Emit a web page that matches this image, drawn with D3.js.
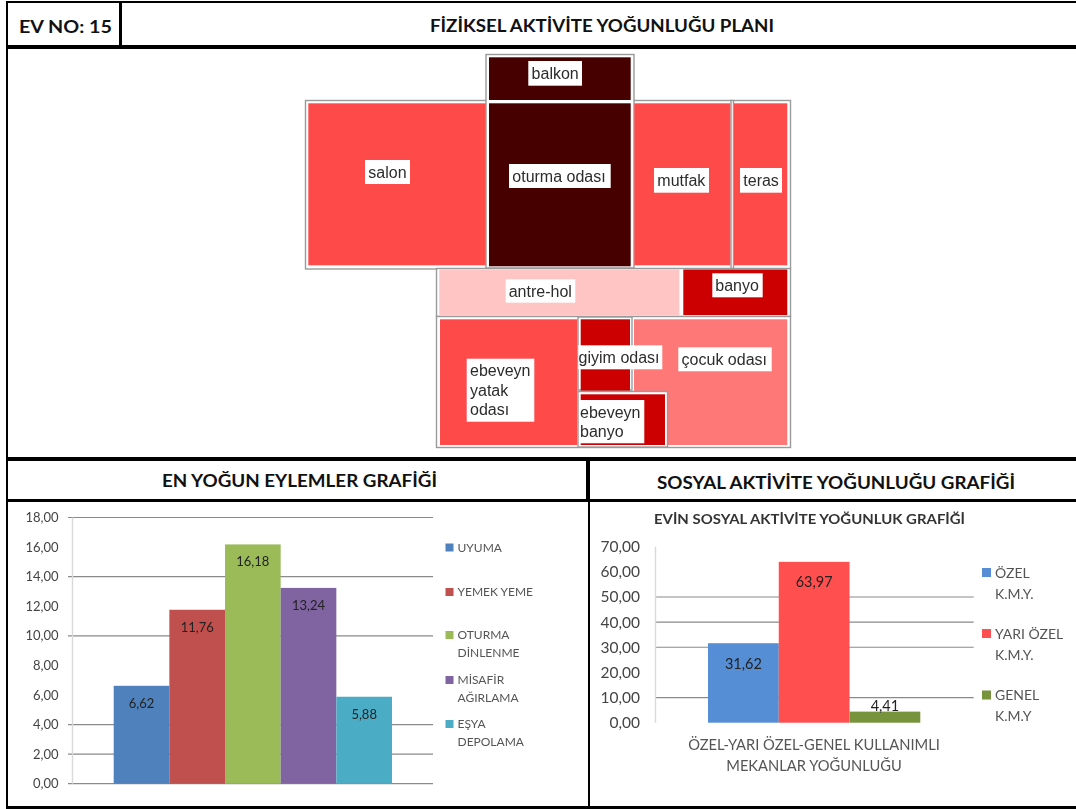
<!DOCTYPE html>
<html><head><meta charset="utf-8">
<script src="https://cdn.jsdelivr.net/npm/d3@7"></script>
<style>
html,body{margin:0;padding:0;background:#fff}
svg{display:block}
.soft{filter:blur(0.5px)}
.softer{filter:blur(0.7px)}
</style></head><body>
<svg id="c" width="1076" height="809"></svg>
<script>
// ---- data ----
const activityNames = [["UYUMA"],["YEMEK YEME"],["OTURMA","DİNLENME"],["MİSAFİR","AĞIRLAMA"],["EŞYA","DEPOLAMA"]];
const activityValues = [6.62,11.76,16.18,13.24,5.88];
const activityTicks = [0,2,4,6,8,10,12,14,16,18];
const activityGrid = [0,2,4,10,14,18];
const socialNames = [["ÖZEL","K.M.Y."],["YARI ÖZEL","K.M.Y."],["GENEL","K.M.Y"]];
const socialValues = [31.62,63.97,4.41];
const socialTicks = [0,10,20,30,40,50,60,70];
const socialGrid = [10,30,40,50];
const roomNames = ["salon","oturma odası","mutfak","teras","balkon","antre-hol","banyo","ebeveyn yatak odası","giyim odası","çocuk odası","ebeveyn banyo"];
const roomLevels = ["high","top","high","high","top","low","strong","high","strong","mid","strong"];

// ---- styles and layout ----
const levelColor = d3.scaleOrdinal(["low","mid","high","strong","top"],["#FFC4C4","#FF7878","#FF4A4A","#CC0000","#470000"]);
const activityColors = ["#4F81BD","#C0504D","#9BBB59","#8064A2","#4BACC6"];
const socialColors = ["#558ED5","#FF4F4F","#77933C"];
const uiFont = "Lato, 'Open Sans', sans-serif";
const fmt = v => d3.format(".2f")(v).replace(".",",");
const svg = d3.select("#c");

// ---- table frame ----
const frame = svg.append("g");
[[6,1,1070,2],[6,45,1070,4],[6,457,1070,4],[6,499,1070,3],[6,806,1070,3],
 [6,1,2,808],[119,1,3,46],[586,459,4,42],[588,500,2,308]].forEach(r=>{
  frame.append("rect").attr("x",r[0]).attr("y",r[1]).attr("width",r[2]).attr("height",r[3]).attr("fill","#000");
});
const head = (t,x,y,a,w) => svg.append("text").text(t).attr("x",x).attr("y",y).attr("text-anchor",a)
  .attr("font-family",uiFont).attr("font-weight",700).attr("font-size",16.5).attr("fill","#111")
  .attr("textLength",w).attr("lengthAdjust","spacingAndGlyphs");
head("EV NO: 15",19,33,"start",93);
head("FİZİKSEL AKTİVİTE YOĞUNLUĞU PLANI",430,32,"start",344);
head("EN YOĞUN EYLEMLER GRAFİĞİ",162,487,"start",275);
head("SOSYAL AKTİVİTE YOĞUNLUĞU GRAFİĞİ",657,489,"start",358);

// ---- floor plan ----
const px = d3.scaleIdentity(), py = d3.scaleIdentity();
const plan = svg.append("g").attr("class","softer");
const outline = o => plan.append("rect").attr("x",px(o[0])).attr("y",py(o[1])).attr("width",o[2]).attr("height",o[3])
  .attr("fill","#fff").attr("stroke","#9a9a9a").attr("stroke-width",1.4);
[[305.5,100.5,485,168.5],[486,54.5,148,213.5],[436.5,268.5,354,48],[436.5,316.5,354,131],[578,317,54,73],[731,100.5,2.5,168]].forEach(outline);
const roomBoxes = [[308.3,103.3,177.4,162],[489,103.3,141.7,163],[634.3,103.3,96,162],[734,103.3,53.3,162],[489,57.3,141.7,42.7],
  [439.3,269.5,240,45.5],[683.3,269.5,104,45.5],[440,319.3,137.3,125.7],[580.7,319.3,49.3,71.4],[634,319.3,153.3,125.7],[580.7,394.3,84.3,50.7]];
roomBoxes.forEach((d,i)=>{
  if(roomNames[i]==="ebeveyn banyo") outline([578,391.5,89.5,55.5]);
  plan.append("rect").attr("class","room").attr("x",px(d[0])).attr("y",py(d[1])).attr("width",d[2]).attr("height",d[3])
    .attr("fill",levelColor(roomLevels[i]));
});
const labelBoxes = [[365,160,45,24],[509,164,101.7,24],[654,168,55,24.7],[740,168,42,24.7],[528.3,61,53.7,24.7],
  [505.7,279.3,69.6,23.4],[712.3,273.3,50.4,24],[466.7,358.7,67.6,63],[578.3,345.3,84,24],[678.3,347.3,93.4,24],[579.3,400,65,43.3]];
const labelPad = [3.3,3.3,3.3,3.3,3.3,3,3,3.3,0.3,3.3,0.7];
const labelLines = [["salon"],["oturma odası"],["mutfak"],["teras"],["balkon"],["antre-hol"],["banyo"],["ebeveyn","yatak","odası"],["giyim odası"],["çocuk odası"],["ebeveyn","banyo"]];
labelBoxes.forEach((b,i)=>{
  plan.append("rect").attr("x",px(b[0])).attr("y",py(b[1])).attr("width",b[2]).attr("height",b[3]).attr("fill","#fff");
  const t = plan.append("text").attr("font-family","'Liberation Sans',Arial,sans-serif").attr("font-size",16).attr("fill","#2c2c2c");
  labelLines[i].forEach((l,j)=>t.append("tspan").text(l).attr("x",px(b[0]+labelPad[i])).attr("y",py(b[1]+17.5+j*19.5)));
});

// ---- chart helper ----
function barChart(o){
  const g = svg.append("g").attr("class","soft");
  const y = d3.scaleLinear().domain(o.domain).range(o.yRange);
  const x = d3.scaleLinear().domain([0,o.values.length]).range(o.xRange);
  g.selectAll("line.grid").data(o.grid).join("line").attr("class","grid")
    .attr("x1",o.gridX[0]).attr("x2",o.gridX[1]).attr("y1",d=>y(d)).attr("y2",d=>y(d))
    .attr("stroke","#8a8a8a").attr("stroke-width",1.2);
  g.append("line").attr("x1",o.axisX).attr("x2",o.axisX).attr("y1",o.yRange[1]).attr("y2",o.yRange[0])
    .attr("stroke","#d9d9d9").attr("stroke-width",1.4);
  const axis = g.append("g").attr("transform",`translate(${o.tickX},0)`)
    .call(d3.axisLeft(y).tickValues(o.ticks).tickFormat(fmt).tickSize(0).tickPadding(0));
  axis.select(".domain").remove();
  axis.selectAll("text").attr("font-family",uiFont).attr("font-size",o.tickSize).attr("fill","#444");
  g.selectAll("rect.bar").data(o.values).join("rect").attr("class","bar")
    .attr("x",(d,i)=>x(i)).attr("width",(d,i)=>x(i+1)-x(i)).attr("y",d=>y(d)).attr("height",d=>y(0)-y(d))
    .attr("fill",(d,i)=>o.colors[i]);
  g.selectAll("text.val").data(o.values).join("text").attr("class","val")
    .text(fmt).attr("x",(d,i)=>(x(i)+x(i+1))/2).attr("y",d=>o.labelY(y,d)).attr("text-anchor","middle")
    .attr("font-family",uiFont).attr("font-size",o.valSize).attr("fill","#222");
  o.names.forEach((lines,i)=>{
    const ly = o.legendY[i];
    g.append("rect").attr("x",o.legendX).attr("y",ly-o.sw/2).attr("width",o.sw).attr("height",o.sw).attr("fill",o.colors[i]);
    lines.forEach((l,j)=>g.append("text").text(l).attr("x",o.legendX+o.legendGap).attr("y",ly+o.legendSize*0.36+j*o.legendLead)
      .attr("font-family",uiFont).attr("font-size",o.legendSize).attr("fill","#555"));
  });
  return g;
}

barChart({values:activityValues,names:activityNames,colors:activityColors,domain:[0,18],yRange:[783.7,517.5],xRange:[113.7,392],
  grid:activityGrid,gridX:[68,433],axisX:72.5,ticks:activityTicks,tickX:58.5,tickSize:13,valSize:13,
  labelY:(y,d)=>y(d)+22,legendX:445.5,legendGap:12,legendY:[547.5,592,635,680,724],legendSize:12,legendLead:17.5,sw:8});

const sg = barChart({values:socialValues,names:socialNames,colors:socialColors,domain:[0,70],yRange:[722.7,546.7],xRange:[708,920.3],
  grid:socialGrid,gridX:[655,973.7],axisX:655.5,ticks:socialTicks,tickX:640,tickSize:15.5,valSize:14.5,
  labelY:(y,d)=>d<10?y(d)-1:y(d)+25.5,legendX:982,legendGap:13,legendY:[572.5,633.5,695],legendSize:14,legendLead:21,sw:9});
sg.append("text").text("EVİN SOSYAL AKTİVİTE YOĞUNLUK GRAFİĞİ").attr("x",654).attr("y",524)
  .attr("font-family",uiFont).attr("font-weight",700).attr("font-size",12.5).attr("fill","#333")
  .attr("textLength",311).attr("lengthAdjust","spacingAndGlyphs");
["ÖZEL-YARI ÖZEL-GENEL KULLANIMLI","MEKANLAR YOĞUNLUĞU"].forEach((t,i)=>
  sg.append("text").text(t).attr("x",814).attr("y",750+i*21).attr("text-anchor","middle")
    .attr("font-family",uiFont).attr("font-size",14.7).attr("fill","#555"));
</script>
</body></html>
